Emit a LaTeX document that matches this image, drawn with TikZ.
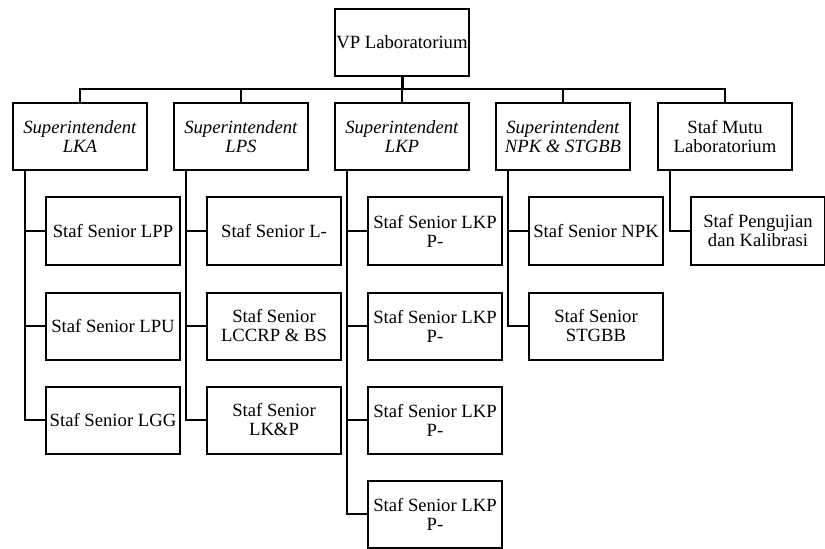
\documentclass[tikz,border=0pt]{standalone}
\usepackage{fontspec}
\setmainfont{Liberation Serif}
\usepackage{tikz}
\begin{document}
\begin{tikzpicture}[x=0.75pt,y=-0.75pt,font=\fontsize{14}{14.25}\selectfont]
\useasboundingbox (0,0) rectangle (825,549);
\tikzstyle{unit}=[draw,line width=1.5pt,minimum width=100.5pt,minimum height=50.25pt,inner sep=0pt,align=center]
\tikzstyle{link}=[line width=1.5pt]

\node[unit] (vp) at (402,42.5) {VP Laboratorium};
\coordinate (bus) at (402,89);

\node[unit] (sLKA) at (80,136.5) {\textit{Superintendent}\\\textit{LKA}};
\node[unit] (sLPS) at (241,136.5) {\textit{Superintendent}\\\textit{LPS}};
\node[unit] (sLKP) at (402,136.5) {\textit{Superintendent}\\\textit{LKP}};
\node[unit] (sNPK) at (563,136.5) {\textit{Superintendent}\\\textit{NPK \& STGBB}};
\node[unit] (sMutu) at (725,136.5) {Staf Mutu\\Laboratorium};

\node[unit] (lpp) at (113,231) {Staf Senior LPP};
\node[unit] (lpu) at (113,326) {Staf Senior LPU};
\node[unit] (lgg) at (113,420) {Staf Senior LGG};

\node[unit] (lmin) at (274,231) {Staf Senior L-};
\node[unit] (lccrp) at (274,326) {Staf Senior\\LCCRP \& BS};
\node[unit] (lkp) at (274,420) {Staf Senior\\LK\&P};

\node[unit] (pA) at (435,231) {Staf Senior LKP\\P-};
\node[unit] (pB) at (435,326) {Staf Senior LKP\\P-};
\node[unit] (pC) at (435,420) {Staf Senior LKP\\P-};
\node[unit] (pD) at (435,514) {Staf Senior LKP\\P-};

\node[unit] (npk) at (596,231) {Staf Senior NPK};
\node[unit] (stgbb) at (596,326) {Staf Senior\\STGBB};

\node[unit] (uji) at (758,231) {Staf Pengujian\\dan Kalibrasi};

\draw[line width=2.25pt] (vp.south) to (bus);
\draw[link] (bus) -| (sLKA.north);
\draw[link] (bus) -| (sLPS.north);
\draw[link] (bus) -| (sLKP.north);
\draw[link] (bus) -| (sNPK.north);
\draw[link] (bus) -| (sMutu.north);

\draw[link] ([xshift=9.75pt]sLKA.south west) |- (lpp.west);
\draw[link] ([xshift=9.75pt]sLKA.south west) |- (lpu.west);
\draw[link] ([xshift=9.75pt]sLKA.south west) |- (lgg.west);

\draw[link] ([xshift=9.75pt]sLPS.south west) |- (lmin.west);
\draw[link] ([xshift=9.75pt]sLPS.south west) |- (lccrp.west);
\draw[link] ([xshift=9.75pt]sLPS.south west) |- (lkp.west);

\draw[link] ([xshift=9.75pt]sLKP.south west) |- (pA.west);
\draw[link] ([xshift=9.75pt]sLKP.south west) |- (pB.west);
\draw[link] ([xshift=9.75pt]sLKP.south west) |- (pC.west);
\draw[link] ([xshift=9.75pt]sLKP.south west) |- (pD.west);

\draw[link] ([xshift=9.75pt]sNPK.south west) |- (npk.west);
\draw[link] ([xshift=9.75pt]sNPK.south west) |- (stgbb.west);

\draw[link] ([xshift=9.75pt]sMutu.south west) |- (uji.west);
\end{tikzpicture}
\end{document}
